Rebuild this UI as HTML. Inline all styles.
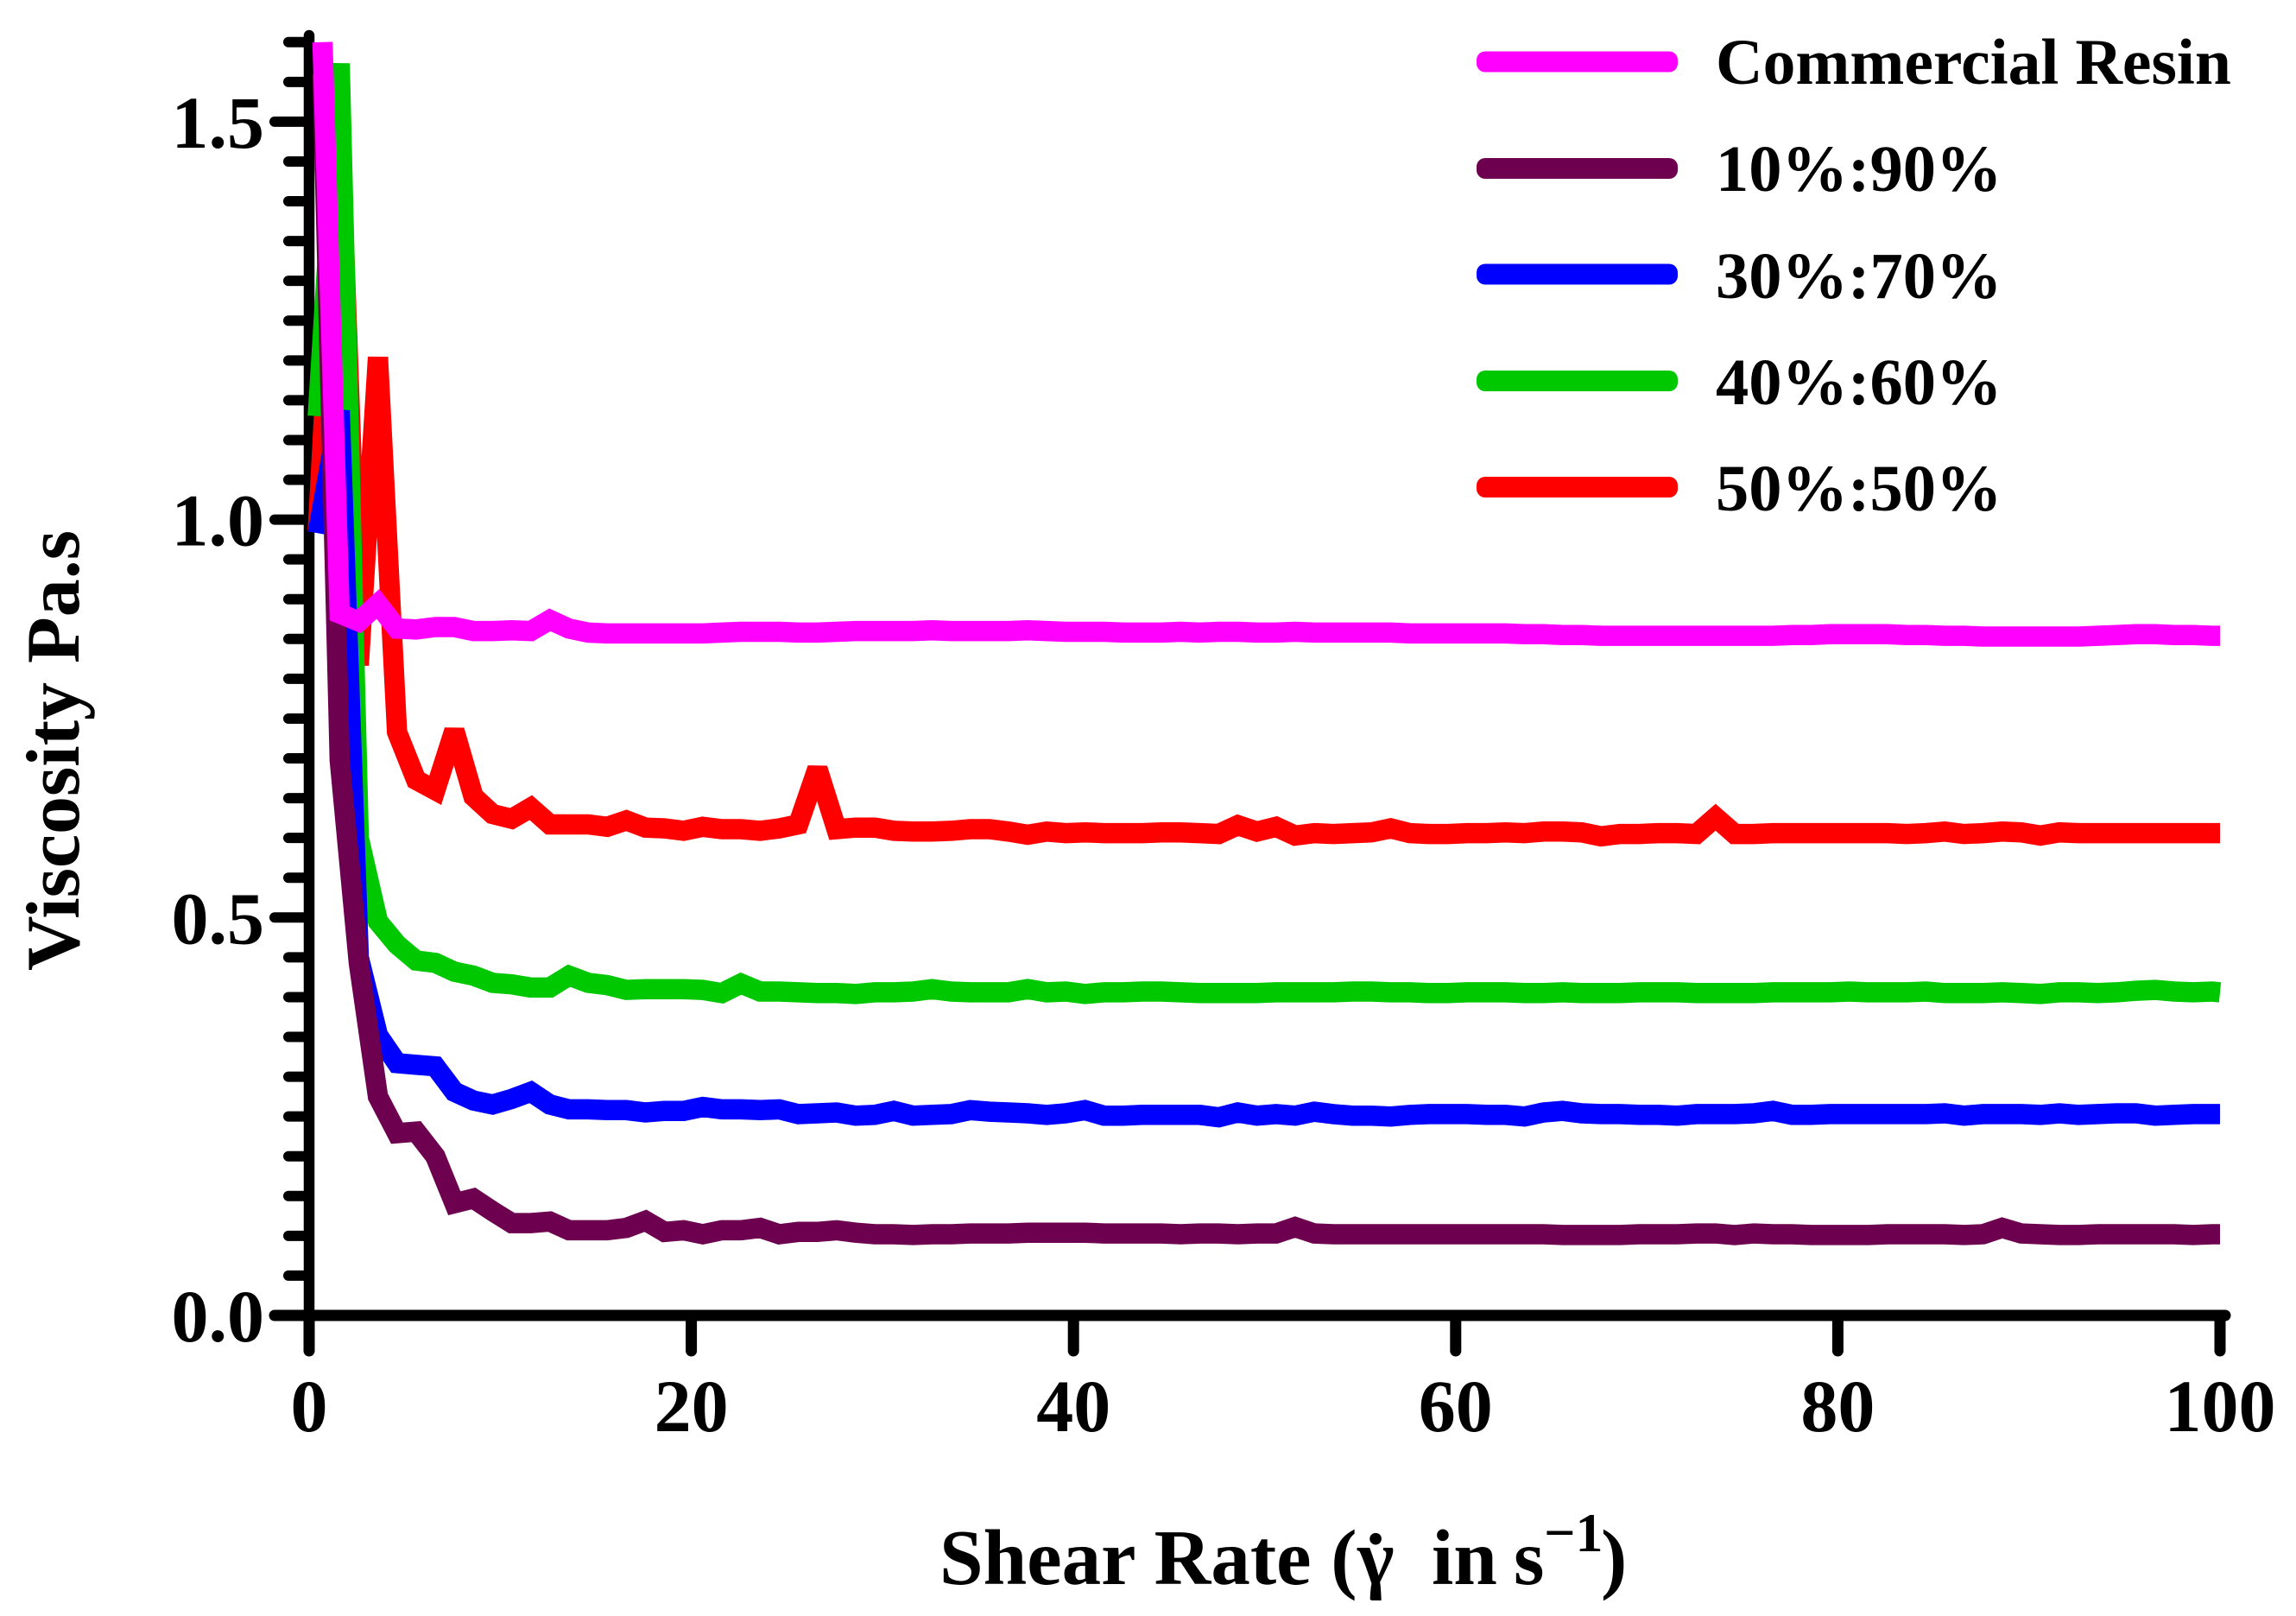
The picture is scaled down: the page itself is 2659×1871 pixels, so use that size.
<!DOCTYPE html>
<html lang="en">
<head>
<meta charset="utf-8">
<title>Viscosity vs Shear Rate</title>
<style>
html,body{margin:0;padding:0;background:#fff;width:2659px;height:1871px;overflow:hidden}
svg{display:block}
text{font-family:"Liberation Serif","DejaVu Serif",serif;font-weight:bold;fill:#000}
</style>
</head>
<body>
<svg id="chart" xmlns="http://www.w3.org/2000/svg" width="2659" height="1871" viewBox="0 0 2659 1871">
  <g id="axes"></g>
  <g id="series"></g>
  <text transform="translate(91,1124) rotate(-90)" font-size="88">Viscosity Pa.s</text>
  <g>
    <text font-size="91" y="1834"><tspan x="1088">Shear Rate (</tspan><tspan x="1572">γ</tspan><tspan x="1658">in</tspan><tspan x="1753">s</tspan><tspan x="1788" y="1796" font-size="64">−1</tspan><tspan x="1854" y="1834">)</tspan></text>
    <text font-size="91" x="1593" y="1838" text-anchor="middle">˙</text>
  </g>
  <g>
    <g>
      <rect x="1710" y="59.5" width="233" height="24" rx="10" fill="#ff00ff"/>
      <text x="1987" y="97" font-size="75.6">Commercial Resin</text>
    </g>
    <g>
      <rect x="1710" y="183" width="233" height="24" rx="10" fill="#6d004f"/>
      <text x="1987" y="221" font-size="76.5">10%:90%</text>
    </g>
    <g>
      <rect x="1710" y="305.5" width="233" height="24" rx="10" fill="#0000ff"/>
      <text x="1987" y="345" font-size="76.5">30%:70%</text>
    </g>
    <g>
      <rect x="1710" y="429" width="233" height="24" rx="10" fill="#00c800"/>
      <text x="1987" y="468" font-size="76.5">40%:60%</text>
    </g>
    <g>
      <rect x="1710" y="552" width="233" height="24" rx="10" fill="#ff0000"/>
      <text x="1987" y="591" font-size="76.5">50%:50%</text>
    </g>
  </g>
</svg>
<script>
var xTicks = [0, 20, 40, 60, 80, 100];
var yMajorTicks = ["0.0", "0.5", "1.0", "1.5"];
var yMinorTicks = [0.05,0.1,0.15,0.2,0.25,0.3,0.35,0.4,0.45,0.55,0.6,0.65,0.7,0.75,0.8,0.85,0.9,0.95,1.05,1.1,1.15,1.2,1.25,1.3,1.35,1.4,1.45,1.55,1.6];

var shearRate = [0.45,0.7,
1.6,2.6,3.6,4.6,5.6,6.6,7.6,8.6,9.6,10.6,
11.6,12.6,13.6,14.6,15.6,16.6,17.6,18.6,19.6,20.6,
21.6,22.6,23.6,24.6,25.6,26.6,27.6,28.6,29.6,30.6,
31.6,32.6,33.6,34.6,35.6,36.6,37.6,38.6,39.6,40.6,
41.6,42.6,43.6,44.6,45.6,46.6,47.6,48.6,49.6,50.6,
51.6,52.6,53.6,54.6,55.6,56.6,57.6,58.6,59.6,60.6,
61.6,62.6,63.6,64.6,65.6,66.6,67.6,68.6,69.6,70.6,
71.6,72.6,73.6,74.6,75.6,76.6,77.6,78.6,79.6,80.6,
81.6,82.6,83.6,84.6,85.6,86.6,87.6,88.6,89.6,90.6,
91.6,92.6,93.6,94.6,95.6,96.6,97.6,98.6,99.6,100];

var commercialResin = [null,1.6,
.882,.872,.894,.863,.862,.865,.865,.860,.860,.861,
.860,.874,.863,.858,.857,.857,.857,.857,.857,.857,
.858,.859,.859,.859,.858,.858,.859,.860,.860,.860,
.860,.861,.860,.860,.860,.860,.861,.860,.859,.859,
.859,.858,.858,.858,.859,.858,.859,.859,.858,.858,
.859,.858,.858,.858,.858,.858,.857,.857,.857,.857,
.857,.857,.856,.856,.855,.855,.854,.854,.854,.854,
.854,.854,.854,.854,.854,.854,.855,.855,.856,.856,
.856,.856,.855,.855,.854,.854,.853,.853,.853,.853,
.853,.853,.854,.855,.856,.856,.855,.855,.854,.854];

var ratio10to90 = [null,1.56,
.698,.443,.275,.229,.231,.200,.141,.147,.131,.116,
.116,.118,.107,.107,.107,.110,.119,.105,.107,.102,
.107,.107,.110,.102,.105,.105,.107,.104,.102,.102,
.101,.102,.102,.103,.103,.103,.104,.104,.104,.104,
.103,.103,.103,.103,.102,.103,.103,.102,.103,.103,
.111,.103,.102,.102,.102,.102,.102,.102,.102,.102,
.102,.102,.102,.102,.101,.101,.101,.101,.102,.102,
.102,.103,.103,.101,.103,.102,.102,.101,.101,.101,
.101,.102,.102,.102,.102,.101,.102,.110,.103,.102,
.101,.101,.102,.102,.102,.102,.102,.101,.102,.102];

var ratio30to70 = [.983,null,
1.137,.450,.352,.317,.315,.313,.281,.270,.265,.272,
.281,.265,.259,.259,.258,.258,.255,.257,.257,.262,
.259,.259,.258,.259,.253,.254,.255,.251,.252,.257,
.251,.252,.253,.258,.256,.255,.254,.252,.254,.258,
.251,.251,.252,.252,.252,.252,.249,.255,.251,.253,
.251,.256,.253,.251,.251,.250,.252,.253,.253,.253,
.252,.252,.250,.255,.257,.254,.253,.253,.252,.252,
.251,.253,.253,.253,.254,.257,.252,.252,.253,.253,
.253,.253,.253,.253,.254,.251,.253,.253,.253,.252,
.254,.252,.253,.254,.254,.251,.252,.253,.253,.253];

var ratio40to60 = [1.13,null,
1.573,.600,.495,.466,.446,.443,.432,.427,.418,.416,
.412,.412,.427,.418,.415,.409,.410,.410,.410,.409,
.405,.417,.407,.407,.406,.405,.405,.404,.406,.406,
.407,.410,.407,.406,.406,.406,.410,.406,.407,.404,
.406,.406,.407,.407,.406,.405,.405,.405,.405,.406,
.406,.406,.406,.407,.407,.406,.406,.405,.405,.406,
.406,.406,.405,.405,.406,.405,.405,.405,.406,.406,
.406,.405,.405,.405,.405,.406,.406,.406,.406,.407,
.406,.406,.406,.407,.405,.405,.405,.406,.405,.404,
.406,.406,.405,.406,.408,.409,.407,.406,.407,.406];

var ratio50to50 = [.985,null,
1.50,.817,1.204,.733,.673,.660,.735,.652,.630,.624,
.638,.617,.617,.617,.614,.622,.613,.612,.609,.614,
.611,.611,.609,.612,.617,.687,.611,.613,.613,.609,
.608,.608,.609,.611,.611,.608,.604,.608,.606,.607,
.606,.606,.606,.607,.607,.606,.605,.616,.608,.614,
.603,.606,.605,.606,.607,.612,.606,.605,.605,.606,
.606,.607,.606,.608,.608,.607,.602,.605,.605,.606,
.606,.605,.626,.605,.605,.606,.606,.606,.606,.606,
.606,.606,.605,.606,.608,.605,.606,.608,.607,.603,
.607,.606,.606,.606,.606,.606,.606,.606,.606,.606];

var NS = "http://www.w3.org/2000/svg";
function xScale(v) { return 358 + 22.13 * v; }
function yScale(v) { return 1523 - 921.4 * v; }
function make(tag, attrs, parent) {
  var el = document.createElementNS(NS, tag);
  for (var k in attrs) { el.setAttribute(k, attrs[k]); }
  parent.appendChild(el);
  return el;
}
var axes = document.getElementById("axes");
var seriesLayer = document.getElementById("series");

var yAxisLine = make("line", {x1:358, y1:41, x2:358, y2:1563, stroke:"#000", "stroke-width":12.5, "stroke-linecap":"round"}, axes);


var xAxisLine = make("line", {x1:318, y1:1523, x2:2577, y2:1523, stroke:"#000", "stroke-width":13, "stroke-linecap":"round"}, axes);



yMinorTicks.forEach(function (v) {
  var t = make("line", {x1:334, y1:yScale(v), x2:358, y2:yScale(v), stroke:"#000", "stroke-width":12, "stroke-linecap":"round"}, axes);
  
  
});
yMajorTicks.forEach(function (label) {
  var v = parseFloat(label);
  var t = make("line", {x1:318, y1:yScale(v), x2:358, y2:yScale(v), stroke:"#000", "stroke-width":12, "stroke-linecap":"round"}, axes);
  
  
  var txt = make("text", {x:306, y:yScale(v) + 30, "font-size":86, "text-anchor":"end"}, axes);
  txt.textContent = label;
  
  
});
xTicks.forEach(function (v) {
  var t = make("line", {x1:xScale(v), y1:1523, x2:xScale(v), y2:1564, stroke:"#000", "stroke-width":13, "stroke-linecap":"round"}, axes);
  
  
  var txt = make("text", {x:xScale(v), y:1657, "font-size":86, "text-anchor":"middle"}, axes);
  txt.textContent = String(v);
  
  
});

function drawSeries(values, color, name) {
  var coords = [];
  values.forEach(function (v, i) {
    if (v !== null) { coords.push(xScale(shearRate[i]).toFixed(1) + "," + yScale(v).toFixed(1)); }
  });
  var line = make("polyline", {points:coords.join(" "), fill:"none", stroke:color, "stroke-width":23.5, "stroke-linejoin":"miter", "stroke-miterlimit":2, "stroke-linecap":"butt"}, seriesLayer);
  
  
}
drawSeries(ratio50to50, "#ff0000", "series-50-50");
drawSeries(ratio40to60, "#00c800", "series-40-60");
drawSeries(ratio30to70, "#0000ff", "series-30-70");
drawSeries(ratio10to90, "#6d004f", "series-10-90");
drawSeries(commercialResin, "#ff00ff", "series-commercial-resin");
</script>
</body>
</html>
